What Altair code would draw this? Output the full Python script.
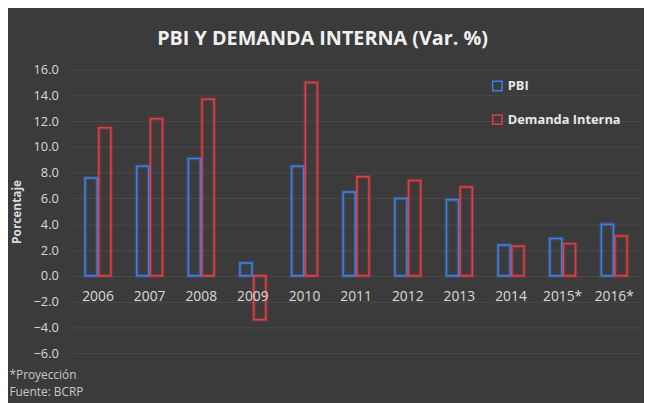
import altair as alt
import pandas as pd

years = ["2006", "2007", "2008", "2009", "2010", "2011", "2012", "2013", "2014", "2015*", "2016*"]
pbi = [7.6, 8.5, 9.1, 1.0, 8.5, 6.5, 6.0, 5.9, 2.4, 2.9, 4.0]
demanda = [11.5, 12.2, 13.7, -3.4, 15.0, 7.7, 7.4, 6.9, 2.3, 2.5, 3.1]
series = ["PBI", "Demanda Interna"]
colors = ["#3f7fe6", "#e63c46"]

rows = []
for y, a, b in zip(years, pbi, demanda):
    rows.append({"year": y, "serie": series[0], "value": a})
    rows.append({"year": y, "serie": series[1], "value": b})
df = pd.DataFrame(rows)
lab = pd.DataFrame({"year": years})

BG = "#3b3b3b"
FONT = "Open Sans"

xscale = alt.Scale(paddingInner=0.5, paddingOuter=0.25)
yscale = alt.Scale(domain=[-6, 16], nice=False, zero=False)
cscale = alt.Scale(domain=series, range=colors)

xenc = alt.X("year:N", sort=years, scale=xscale,
             title=["*Proyección", "Fuente: BCRP"])
yenc = alt.Y("value:Q", scale=yscale, title="Porcentaje")
cenc = alt.Color("serie:N", sort=series, scale=cscale, title=None)
xoff = alt.XOffset("serie:N", sort=series, scale=alt.Scale(paddingInner=0.12))

glow = alt.Chart(df).mark_bar(filled=False, strokeWidth=4, strokeOpacity=0.25).encode(
    x=xenc, y=yenc, y2=alt.datum(0), xOffset=xoff, color=cenc,
)
bars = alt.Chart(df).mark_bar(filled=False, strokeWidth=1.5).encode(
    x=xenc, y=yenc, y2=alt.datum(0), xOffset=xoff, color=cenc,
)
labels = alt.Chart(lab).mark_text(font=FONT, fontSize=14, color="#d9d9d9", dy=21).encode(
    x=alt.X("year:N", sort=years, scale=xscale), y=alt.datum(0), text="year:N"
)

chart = alt.layer(glow, bars, labels).properties(
    width=575, height=287,
    autosize=alt.AutoSizeParams(type="none"),
    padding={"left": 65, "top": 60, "right": 4, "bottom": 48},
    background=BG,
    title=alt.TitleParams("PBI Y DEMANDA INTERNA (Var. %)", font=FONT, fontSize=20,
                          fontWeight="bold", color="#f0f0f0", anchor="middle",
                          dx=-34, offset=15),
).configure_view(stroke=None).configure_axisX(
    labels=False, ticks=False, domain=False, grid=False,
    titleAnchor="start", titleAlign="left", titleBaseline="top",
    titleX=-64, titleY=17, titleLineHeight=17,
    titleFont=FONT, titleFontSize=12, titleFontWeight="normal", titleColor="#c8c8c8",
).configure_axisY(
    values=list(range(-6, 17, 2)), format=".1f", labelOverlap=False,
    titleFont=FONT, titleFontSize=12, titleFontWeight="bold", titleColor="#d9d9d9",
    titlePadding=10, labelFont=FONT, labelFontSize=13, labelColor="#d9d9d9",
    labelPadding=14, ticks=False, domain=False,
    grid=True, gridColor="#555555", gridOpacity=0.6,
).configure_legend(
    orient="none", legendX=424, legendY=10,
    symbolType="square", symbolSize=90,
    symbolFillColor="transparent", symbolStrokeWidth=1.5,
    labelFont=FONT, labelFontSize=13, labelFontWeight="bold",
    labelColor="#e8e8e8", rowPadding=17, labelOffset=4,
)

chart.save("out.html", embed_options={"renderer": "svg", "actions": False})
